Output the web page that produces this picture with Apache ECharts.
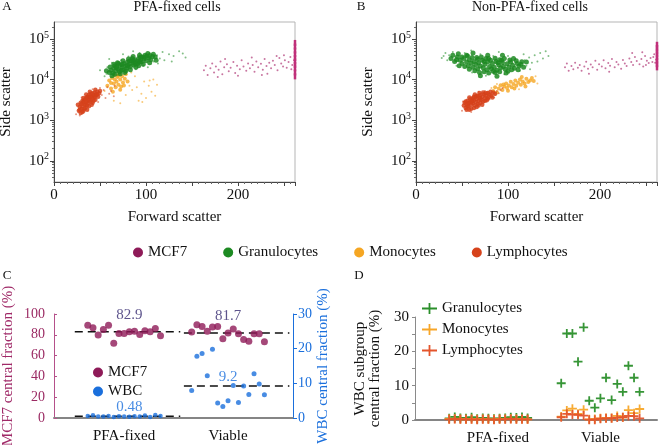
<!DOCTYPE html>
<html>
<head>
<meta charset="utf-8">
<title>Flow cytometry central fraction</title>
<script src="https://cdn.jsdelivr.net/npm/echarts@6/dist/echarts.min.js"></script>
<style>
  html, body { margin: 0; padding: 0; background: #fff; }
  #chart { width: 659px; height: 445px; }
</style>
</head>
<body>
<div id="chart"></div>
<script>
// ---- panel A: PFA-fixed cells, events as [forward scatter, side scatter] ----
const pfaMonoCore = [[58,7000],[60,9500],[62,6000],[63,11000],[65,8000],[66,13000],[67,6500],[68,9000],[69,11500],[70,7500],[71,14000],[72,10000],[73,6800],[74,12000],[75,8500],[77,10500],[78,13500],[80,9000],[62,8200],[66,10200],[70,12500],[76,7200],[64,5000],[72,5600]];
const pfaMonoSparse = [[82,7000],[85,5500],[88,12000],[90,6500],[95,4500],[98,9000],[100,3500],[103,7000],[106,5000],[108,10000],[110,4000],[84,15000],[55,5200],[92,3000],[78,4200],[65,3000],[72,2600],[96,2800],[104,9500],[112,7500]];
const pfaGranCore = [[60,15000],[62,17000],[64,14500],[65,19000],[67,16500],[68,21000],[70,18000],[71,15500],[72,23000],[74,20000],[75,17500],[76,25000],[78,22000],[79,19000],[80,27000],[82,24000],[83,21000],[84,29000],[86,26000],[87,23000],[88,31000],[90,28000],[91,25000],[92,33000],[94,30000],[95,27000],[96,36000],[98,32000],[100,29000],[101,38000],[103,34000],[105,31000],[107,37000],[70,25000],[85,33000],[92,22000],[78,16500],[66,22000],[99,40000],[110,36000],[63,12500],[66,13500],[69,26000],[72,14000],[75,29000],[77,15000],[81,32000],[83,17500],[86,37000],[89,20000],[93,40000],[97,24000],[102,44000],[104,26000],[108,42000],[111,30000],[68,19500],[74,23500],[80,21500],[86,29500],[93,27500],[98,35500],[104,39000],[61,20500],[57,16500],[65,24000],[88,25000],[94,36000],[73,17000],[82,28500]];
const pfaGranSparse = [[55,12000],[58,20000],[57,14000],[63,26000],[69,13000],[73,30000],[81,37000],[89,18000],[93,45000],[97,22000],[104,45000],[108,28000],[112,40000],[115,33000],[118,48000],[120,30000],[125,42000],[130,38000],[136,50000],[143,35000],[60,32000],[75,42000],[86,50000],[113,25000],[102,20000],[128,28000],[140,44000],[50,17000]];
const pfaLymphCore = [[27,1700],[28,2100],[29,1500],[30,2500],[30,1900],[31,2200],[32,2800],[32,1700],[33,3200],[34,2400],[34,2000],[35,3500],[35,2800],[36,3000],[36,2300],[37,3800],[37,2600],[38,3300],[38,4200],[39,2900],[39,3600],[40,3100],[40,4500],[41,3800],[42,3400],[42,2700],[43,4100],[44,3600],[44,4800],[45,3200],[46,4300],[47,5000],[48,3800],[49,4600],[35,4300],[31,3000],[41,2400],[26,2400],[45,5600],[33,1900],[29,2700],[31,1600],[33,2500],[36,3700],[38,2200],[40,3800],[43,3000],[45,4000],[47,4300],[36,1800],[28,1800],[42,4600],[39,5000],[50,5200],[32,3500]];
const pfaLymphSparse = [[24,1400],[28,1300],[52,4200],[54,5500],[56,3500],[58,6500],[60,4500],[62,5200],[65,3900],[50,6200],[30,3600],[48,2800],[66,7000],[42,5800]];
const pfaMcf7 = [[163,17000],[165,22000],[167,13000],[170,19000],[172,25000],[174,15000],[176,21000],[179,17500],[181,28000],[183,13500],[185,20000],[188,24000],[190,16000],[192,19500],[195,27000],[197,14500],[199,22000],[202,18000],[204,30000],[206,21000],[209,16500],[211,25000],[213,19000],[216,23000],[218,15500],[220,28000],[222,20000],[225,24500],[227,17500],[229,32000],[231,21500],[234,26000],[236,19000],[238,29000],[240,23000],[243,17000],[245,34000],[247,25000],[249,21000],[251,30000],[253,19500],[255,27000],[257,36000],[259,23000],[261,30000],[186,32000],[200,12500],[215,35000],[232,14000],[250,40000],[178,11500],[242,38000],[226,13000],[258,18000]];
const pfaMcf7Saturated = [[262,12000],[262,15000],[262,19000],[262,23000],[262,28000],[262,34000],[262,42000],[262,52000],[262,65000],[262,80000]];

// ---- panel B: non-PFA-fixed cells ----
const liveMonoCore = [[84,5200],[86,6500],[88,4800],[90,6000],[92,7300],[94,5500],[96,6800],[98,8000],[99,6200],[101,7200],[103,8800],[104,6500],[106,7800],[108,9500],[109,7000],[111,8400],[113,10000],[114,7500],[116,9000],[118,8000],[120,10500],[122,8700],[124,9500],[126,11000],[95,7600],[107,6000],[115,11500],[100,5300],[119,6800],[128,9200]];
const liveMonoSparse = [[80,4500],[82,6200],[78,5000],[130,12000],[132,8000],[88,7800],[112,5800]];
const liveGranCore = [[38,33000],[42,28000],[45,36000],[48,30000],[50,25000],[52,33000],[55,27000],[57,22000],[58,31000],[60,25500],[62,20000],[63,28000],[65,23500],[67,18500],[68,26000],[70,21500],[72,30000],[73,19500],[75,24000],[77,17500],[78,27500],[80,21000],[82,18500],[83,25000],[85,20000],[87,28000],[88,17000],[90,23000],[92,19500],[94,26500],[95,21000],[97,18000],[99,24500],[101,20500],[103,27000],[105,22500],[107,19000],[110,25000],[112,21500],[115,27500],[56,38000],[66,35000],[79,33000],[91,31000],[74,15500],[86,15000],[100,16000],[47,22000],[40,40000],[44,31000],[46,43000],[50,36000],[53,21000],[55,40000],[58,18000],[61,35000],[64,16500],[67,31500],[69,15000],[71,36000],[74,28000],[76,33000],[79,14500],[81,30000],[84,16000],[86,33500],[89,26000],[91,15500],[93,30000],[96,33000],[98,14500],[102,30500],[104,17500],[106,33000],[109,29000],[111,17500],[114,24000],[117,20000],[120,27000],[62,45000],[78,40000],[94,40000],[70,12500],[88,12000]];
const liveGranSparse = [[30,38000],[32,45000],[34,30000],[36,40000],[40,48000],[44,22000],[53,45000],[61,15000],[70,42000],[84,38000],[96,13500],[108,32000],[113,16500],[118,30000],[120,22000],[123,35000],[126,26000],[129,40000],[132,28000],[135,45000],[138,33000],[141,50000],[144,38000],[117,42000],[124,18000],[60,52000],[90,48000],[100,38000],[28,34000],[76,12500]];
const liveLymphCore = [[52,2300],[53,2700],[54,2000],[55,2500],[56,3000],[57,2200],[58,2700],[59,3300],[60,2400],[60,1900],[61,2900],[62,3500],[62,2600],[63,3100],[64,2300],[65,3800],[65,2800],[66,3300],[67,2500],[67,4000],[68,3000],[69,3600],[70,2700],[70,4200],[71,3200],[72,3800],[73,2900],[74,4400],[75,3500],[76,4000],[77,3100],[78,4700],[79,3700],[80,4300],[82,4000],[84,4800],[58,3600],[64,4300],[72,2400],[55,1800],[54,2900],[56,2200],[58,1800],[61,3200],[63,2000],[66,3900],[68,2300],[70,3400],[73,4800],[75,3000],[78,3400],[81,5000],[83,3600],[57,2600],[63,3800],[69,4700],[86,4500],[60,2900],[66,2100],[76,4600]];
const liveLymphSparse = [[50,1700],[51,2900],[86,4200],[88,5200],[90,4600],[92,5500],[80,3300],[75,5200],[60,1600],[94,6200],[68,5000],[85,3600]];
const liveMcf7 = [[162,20000],[164,25000],[166,16500],[169,21500],[171,18000],[173,26000],[176,19500],[178,23000],[180,16500],[183,21000],[185,27500],[187,18500],[190,23500],[192,20000],[195,29000],[197,17500],[199,24000],[202,21000],[204,30000],[206,19000],[209,25500],[211,22000],[213,32000],[216,20000],[218,27000],[220,23500],[223,18500],[225,30500],[227,25000],[229,21500],[232,33000],[234,27000],[236,23000],[238,36000],[240,28500],[243,24000],[245,32000],[247,21000],[249,38000],[251,29000],[253,25500],[255,34000],[257,27000],[259,42000],[261,31000],[250,23000],[258,36000],[188,14000],[235,45000],[210,15500],[246,47000],[260,26000]];
const liveMcf7Saturated = [[262,20000],[262,24000],[262,29000],[262,35000],[262,42000],[262,50000],[262,60000],[262,72000]];

const fscMin = 0, fscMax = 262;
const sscMin = 30, sscMax = 262144;
const fscTickLabels = [0, 100, 200];

// ---- panel C: central fraction per sample ----
const sampleIndexPfa = [1,2,3,4,5,6,7,8,9,10,11,12,13,14,15];
const sampleIndexViable = [21,22,23,24,25,26,27,28,29,30,31,32,33,34,35];
const groupNames = ['PFA-fixed', 'Viable'];
const mcf7Pfa = [89.2,86.7,79.7,85.1,89.2,71.8,81.3,81.3,82.9,83.5,80.4,83.8,82.9,86.1,79.1];
const mcf7Viable = [82.7,89.6,88.0,83.3,87.5,88.0,76.3,81.7,85.5,81.1,75.4,73.7,81.1,81.1,73.2];
const wbcPfa = [0.6,0.8,0.45,0.4,0.6,0.3,0.48,0.4,0.35,0.5,0.42,0.7,0.3,0.9,0.55];
const wbcViable = [7.9,17.8,18.6,12.2,19.8,4.3,3.3,5.0,9.4,4.5,9.2,6.8,12.8,9.8,6.7];
const mcf7Median = [82.9, 81.7];
const wbcMedian = [0.48, 9.2];

// ---- panel D: WBC subgroup central fraction ----
const granPfa = [0.5,0.9,0.6,0.5,0.8,0.4,0.6,0.5,0.4,0.5,0.6,0.8,0.7,0.9,0.6];
const monoPfa = [0.3,0.4,0.3,0.2,0.3,0.2,0.3,0.2,0.2,0.3,0.3,0.4,0.3,0.3,0.2];
const lymphPfa = [0.2,0.3,0.2,0.2,0.2,0.1,0.2,0.2,0.1,0.2,0.2,0.3,0.2,0.2,0.2];
const granViable = [10.7,25.2,25.2,17.0,27.0,5.6,3.6,6.3,12.3,5.8,10.5,8.2,15.8,12.3,8.2];
const monoViable = [1.0,2.8,3.3,1.8,3.0,0.2,0.3,0.5,0.6,0.6,1.2,0.8,2.9,2.0,3.2];
const lymphViable = [0.8,1.8,1.6,1.5,1.3,0.1,0.1,0.4,0.5,0.5,0.7,0.8,1.2,1.1,0.5];

const SERIF = 'Liberation Serif';
const C = {
  mcf7: '#8e1a58', gran: '#1d8a22', mono: '#f5a623', lymph: '#d6421b', wbc: '#1a6fdc',
  granX: '#2b8f2b', monoX: '#f7a629', lymphX: '#e4552c'
};
const CROSS = 'path://M4,0H6V4H10V6H6V10H4V6H0V4H4Z';
const CROSS_WIDE = 'path://M0,4.6H15V6.4H0ZM6.6,0H8.4V11H6.6Z';

const pair = (xs, ys) => ys.map((v, i) => [xs[i], v]);

function cloud(name, data, color, size, opacity, idx) {
  return {
    type: 'scatter', name, data, xAxisIndex: idx, yAxisIndex: idx,
    symbolSize: size, itemStyle: { color, opacity }, silent: true
  };
}

const minorLogTicks = [];
for (let e = 1; e <= 5; e++) {
  for (let k = 2; k <= 9; k++) {
    const v = k * Math.pow(10, e);
    if (v > sscMin && v < sscMax) minorLogTicks.push(Math.log10(v));
  }
}

function fscAxis(gridIndex) {
  return {
    type: 'value', gridIndex, min: fscMin, max: fscMax, interval: 50,
    name: 'Forward scatter', nameLocation: 'middle', nameGap: 28,
    nameTextStyle: { fontFamily: SERIF, fontSize: 15, color: '#111' },
    axisLine: { onZero: false, lineStyle: { color: '#444', width: 1 } },
    axisTick: { length: 4, lineStyle: { color: '#444' } },
    minorTick: { show: true, splitNumber: 7, length: 2, lineStyle: { color: '#666' } },
    splitLine: { show: false },
    axisLabel: {
      fontFamily: SERIF, fontSize: 15, color: '#111', margin: 6,
      formatter: v => (fscTickLabels.indexOf(v) >= 0 ? String(v) : '')
    }
  };
}

function sscAxis(gridIndex, gap) {
  return {
    type: 'log', logBase: 10, gridIndex, min: sscMin, max: sscMax,
    name: 'Side scatter', nameLocation: 'middle', nameGap: gap,
    nameTextStyle: { fontFamily: SERIF, fontSize: 15, color: '#111' },
    axisLine: { onZero: false, lineStyle: { color: '#444', width: 1 } },
    axisTick: { length: 4, lineStyle: { color: '#444' } },
    splitLine: { show: false },
    axisLabel: {
      margin: 5, showMinLabel: false, showMaxLabel: false,
      formatter: v => {
        const e = Math.log10(v);
        return Math.abs(e - Math.round(e)) < 1e-6 ? '{b|10}{s|' + Math.round(e) + '}' : '';
      },
      rich: {
        b: { fontFamily: SERIF, fontSize: 15, color: '#111' },
        s: { fontFamily: SERIF, fontSize: 10, color: '#111', padding: [0, 0, 8, 0] }
      }
    }
  };
}

function minorSscAxis(gridIndex) {
  return {
    type: 'value', gridIndex, position: 'left',
    min: Math.log10(sscMin), max: Math.log10(sscMax),
    axisLine: { show: false, onZero: false }, axisLabel: { show: false }, splitLine: { show: false },
    axisTick: { show: true, customValues: minorLogTicks, length: 2, lineStyle: { color: '#666' } }
  };
}

function groupAxis(gridIndex, min, max, centers) {
  return {
    type: 'value', gridIndex, min, max,
    axisLine: { onZero: false, lineStyle: { color: '#858585', width: 2 } },
    axisTick: { show: false }, splitLine: { show: false },
    axisLabel: {
      customValues: centers, fontFamily: SERIF, fontSize: 15, color: '#111', margin: 11,
      formatter: v => groupNames[centers.indexOf(v)] || ''
    }
  };
}

const pfaSpan = [-1.5, 18.8], viableSpan = [19.5, 39.8];

const option = {
  animation: false,
  textStyle: { fontFamily: SERIF },
  grid: [
    { left: 54, top: 22, width: 241, height: 160, show: true, borderColor: '#b5b5b5', borderWidth: 1, outerBoundsMode: 'none' },
    { left: 416, top: 22, width: 241, height: 160, show: true, borderColor: '#b5b5b5', borderWidth: 1, outerBoundsMode: 'none' },
    { left: 54, top: 314, width: 239, height: 104, outerBoundsMode: 'none' },
    { left: 415, top: 317, width: 242, height: 103, outerBoundsMode: 'none' }
  ],
  xAxis: [
    fscAxis(0),
    fscAxis(1),
    groupAxis(2, -5.5, 40.5, [8, 28]),
    groupAxis(3, -5.1, 38.1, [9.7, 28])
  ],
  yAxis: [
    sscAxis(0, 40),
    sscAxis(1, 40),
    minorSscAxis(0),
    minorSscAxis(1),
    {
      type: 'value', gridIndex: 2, min: 0, max: 100, interval: 20, position: 'left',
      name: 'MCF7 central fraction (%)', nameLocation: 'middle', nameGap: 38,
      nameTextStyle: { fontFamily: SERIF, fontSize: 15, color: '#a02a68' },
      axisLine: { show: true, onZero: false, lineStyle: { color: '#b5508a', width: 1 } },
      axisTick: { show: true, inside: true, length: 3, lineStyle: { color: '#b5508a' } },
      splitLine: { show: false },
      axisLabel: { fontFamily: SERIF, fontSize: 14, color: '#9b2a63', margin: 9 }
    },
    {
      type: 'value', gridIndex: 2, min: 0, max: 30, interval: 10, position: 'right',
      name: 'WBC central fraction (%)', nameLocation: 'middle', nameGap: 22,
      nameTextStyle: { fontFamily: SERIF, fontSize: 15, color: C.wbc },
      axisLine: { show: true, onZero: false, lineStyle: { color: C.wbc, width: 1 } },
      axisTick: { show: true, length: 4, lineStyle: { color: C.wbc } },
      splitLine: { show: false },
      axisLabel: { fontFamily: SERIF, fontSize: 14, color: C.wbc, margin: 5 }
    },
    {
      type: 'value', gridIndex: 3, min: 0, max: 30, interval: 5,
      name: 'WBC subgroup\ncentral fraction (%)', nameLocation: 'middle', nameGap: 32,
      nameTextStyle: { fontFamily: SERIF, fontSize: 15, color: '#111', lineHeight: 15 },
      axisLine: { show: true, onZero: false, lineStyle: { color: '#8a8a8a', width: 1 } },
      axisTick: { show: true, length: 3, lineStyle: { color: '#8a8a8a' } },
      splitLine: { show: false },
      axisLabel: {
        fontFamily: SERIF, fontSize: 15, color: '#111', margin: 6,
        formatter: v => (v % 10 === 0 ? String(v) : '')
      }
    }
  ],
  legend: [
    {
      left: 128, top: 240, itemGap: 36, itemWidth: 10, itemHeight: 10, selectedMode: false,
      textStyle: { fontFamily: SERIF, fontSize: 15, color: '#111' },
      data: [
        { name: 'MCF7', icon: 'circle', itemStyle: { color: C.mcf7, opacity: 1 } },
        { name: 'Granulocytes', icon: 'circle', itemStyle: { color: C.gran, opacity: 1 } },
        { name: 'Monocytes', icon: 'circle', itemStyle: { color: C.mono, opacity: 1 } },
        { name: 'Lymphocytes', icon: 'circle', itemStyle: { color: C.lymph, opacity: 1 } }
      ]
    },
    {
      left: 88, top: 360, orient: 'vertical', itemGap: 4, itemWidth: 10, itemHeight: 10, selectedMode: false,
      textStyle: { fontFamily: SERIF, fontSize: 15, color: '#111' },
      data: [
        { name: 'MCF7', icon: 'circle', itemStyle: { color: C.mcf7, opacity: 1 } },
        { name: 'WBC', icon: 'circle', itemStyle: { color: C.wbc, opacity: 1 } }
      ]
    },
    {
      left: 417, top: 296, orient: 'vertical', itemGap: 6, itemWidth: 15, itemHeight: 11, selectedMode: false,
      textStyle: { fontFamily: SERIF, fontSize: 15, color: '#111' },
      data: [
        { name: 'Granulocytes', icon: CROSS_WIDE, itemStyle: { color: C.granX, opacity: 1 } },
        { name: 'Monocytes', icon: CROSS_WIDE, itemStyle: { color: C.monoX, opacity: 1 } },
        { name: 'Lymphocytes', icon: CROSS_WIDE, itemStyle: { color: C.lymphX, opacity: 1 } }
      ]
    }
  ],
  graphic: [
    { type: 'text', x: 7, y: 7, style: { text: 'A', font: '13px "Liberation Serif"', fill: '#111', align: 'center', verticalAlign: 'middle' } },
    { type: 'text', x: 177, y: 7, style: { text: 'PFA-fixed cells', font: '14px "Liberation Serif"', fill: '#111', align: 'center', verticalAlign: 'middle' } },
    { type: 'text', x: 361, y: 7, style: { text: 'B', font: '13px "Liberation Serif"', fill: '#111', align: 'center', verticalAlign: 'middle' } },
    { type: 'text', x: 530, y: 7, style: { text: 'Non-PFA-fixed cells', font: '14px "Liberation Serif"', fill: '#111', align: 'center', verticalAlign: 'middle' } },
    { type: 'text', x: 7, y: 276, style: { text: 'C', font: '13px "Liberation Serif"', fill: '#111', align: 'center', verticalAlign: 'middle' } },
    { type: 'text', x: 359, y: 276, style: { text: 'D', font: '13px "Liberation Serif"', fill: '#111', align: 'center', verticalAlign: 'middle' } }
  ],
  series: [
    // panel A
    cloud('Monocytes', pfaMonoSparse, C.mono, 2, 0.6, 0),
    cloud('Monocytes', pfaMonoCore, C.mono, 4, 0.8, 0),
    cloud('Granulocytes', pfaGranSparse, C.gran, 2, 0.55, 0),
    cloud('Granulocytes', pfaGranCore, C.gran, 5, 0.85, 0),
    cloud('Lymphocytes', pfaLymphSparse, C.lymph, 2, 0.55, 0),
    cloud('Lymphocytes', pfaLymphCore, C.lymph, 4.5, 0.85, 0),
    cloud('MCF7', pfaMcf7, '#b03a78', 2, 0.7, 0),
    Object.assign(cloud('MCF7', pfaMcf7Saturated, '#c0307a', 0, 1, 0), { symbol: 'rect', symbolSize: [2.5, 6] }),
    // panel B
    cloud('Monocytes', liveMonoSparse, C.mono, 2, 0.6, 1),
    cloud('Monocytes', liveMonoCore, C.mono, 4, 0.8, 1),
    cloud('Granulocytes', liveGranSparse, C.gran, 2, 0.55, 1),
    cloud('Granulocytes', liveGranCore, C.gran, 5, 0.85, 1),
    cloud('Lymphocytes', liveLymphSparse, C.lymph, 2, 0.55, 1),
    cloud('Lymphocytes', liveLymphCore, C.lymph, 4.5, 0.85, 1),
    cloud('MCF7', liveMcf7, '#b03a78', 2, 0.7, 1),
    Object.assign(cloud('MCF7', liveMcf7Saturated, '#c0307a', 0, 1, 1), { symbol: 'rect', symbolSize: [2.5, 6] }),
    // panel C medians
    ...[[pfaSpan, mcf7Median[0], 4], [viableSpan, mcf7Median[1], 4], [pfaSpan, wbcMedian[0], 5], [viableSpan, wbcMedian[1], 5]].map(([span, m, yi]) => ({
      type: 'line', xAxisIndex: 2, yAxisIndex: yi, data: [[span[0], m], [span[1], m]],
      symbol: 'none', silent: true, z: 1,
      lineStyle: { color: '#111', width: 1.5, type: [8, 5] }
    })),
    // panel C points
    { type: 'scatter', name: 'MCF7', xAxisIndex: 2, yAxisIndex: 4, data: pair(sampleIndexPfa, mcf7Pfa), symbolSize: 7, itemStyle: { color: C.mcf7 }, z: 3 },
    { type: 'scatter', name: 'MCF7', xAxisIndex: 2, yAxisIndex: 4, data: pair(sampleIndexViable, mcf7Viable), symbolSize: 7, itemStyle: { color: C.mcf7 }, z: 3 },
    { type: 'scatter', name: 'WBC', xAxisIndex: 2, yAxisIndex: 5, data: pair(sampleIndexPfa, wbcPfa), symbolSize: 4.5, itemStyle: { color: C.wbc }, z: 3 },
    { type: 'scatter', name: 'WBC', xAxisIndex: 2, yAxisIndex: 5, data: pair(sampleIndexViable, wbcViable), symbolSize: 5, itemStyle: { color: C.wbc }, z: 3 },
    // panel C median labels
    {
      type: 'scatter', xAxisIndex: 2, yAxisIndex: 4, symbolSize: 1, itemStyle: { color: 'transparent' }, silent: true, z: 4,
      data: [[9, mcf7Median[0]], [28, mcf7Median[1]]],
      label: { show: true, position: 'top', distance: 9, formatter: p => p.value[1].toFixed(1), fontFamily: SERIF, fontSize: 15, color: '#35296f' }
    },
    {
      type: 'scatter', xAxisIndex: 2, yAxisIndex: 5, symbolSize: 1, itemStyle: { color: 'transparent' }, silent: true, z: 4,
      data: [[9, wbcMedian[0]], [28, wbcMedian[1]]],
      label: { show: true, position: 'top', distance: 1, formatter: p => String(p.value[1]), fontFamily: SERIF, fontSize: 15, color: C.wbc }
    },
    // panel D crosses
    ...[['Granulocytes', granPfa, granViable, C.granX], ['Monocytes', monoPfa, monoViable, C.monoX], ['Lymphocytes', lymphPfa, lymphViable, C.lymphX]].map(([name, pf, vi, color]) => ({
      type: 'scatter', name, xAxisIndex: 3, yAxisIndex: 6, symbol: CROSS, symbolSize: 9,
      data: pair(sampleIndexPfa, pf).concat(pair(sampleIndexViable, vi)),
      itemStyle: { color, opacity: 0.95 }, z: 3
    }))
  ]
};

const chart = echarts.init(document.getElementById('chart'));
chart.setOption(option);
</script>
</body>
</html>
